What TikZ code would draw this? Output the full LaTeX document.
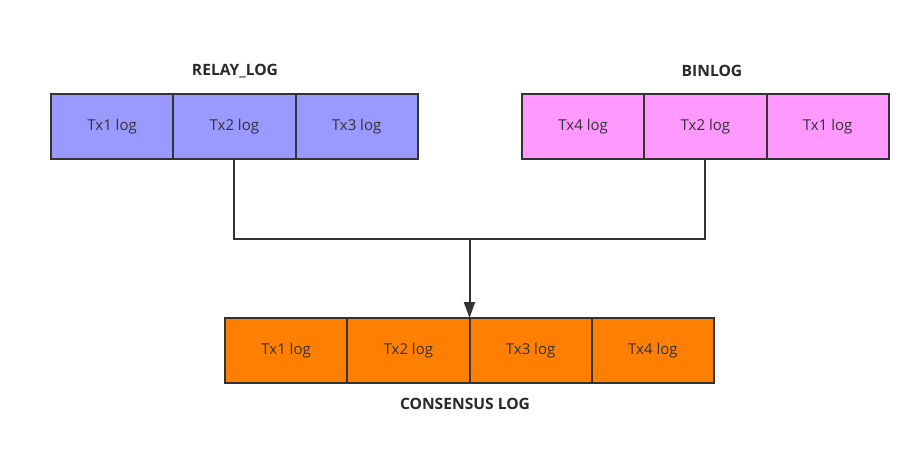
\documentclass[tikz,border=0pt]{standalone}
\usepackage{fontspec}
\setmainfont{Open Sans}
\usetikzlibrary{arrows.meta}
\definecolor{relay}{HTML}{9999FF}
\definecolor{bin}{HTML}{FF99FF}
\definecolor{cons}{HTML}{FF8000}
\definecolor{edge}{HTML}{333333}
\definecolor{txt}{HTML}{333333}
\begin{document}
\begin{tikzpicture}[x=1pt,y=-1pt,
  cell/.style={draw=edge, line width=2pt, outer sep=0pt, minimum width=122.25pt, minimum height=65pt, inner sep=0pt, anchor=north west, text=txt, font=\fontsize{15}{17}\selectfont},
  title/.style={text=txt!80!black, font=\bfseries\fontsize{15.6}{17}\selectfont},
  conn/.style={draw=edge, line width=2pt}]
\useasboundingbox (0,0) rectangle (924,457);
% relay
\node[cell, fill=relay] (r1) at (51,94) {Tx1 log};
\node[cell, fill=relay] (r2) at (r1.north east) {Tx2 log};
\node[cell, fill=relay] (r3) at (r2.north east) {Tx3 log};
% binlog
\node[cell, fill=bin] (b1) at (522,94) {Tx4 log};
\node[cell, fill=bin] (b2) at (b1.north east) {Tx2 log};
\node[cell, fill=bin] (b3) at (b2.north east) {Tx1 log};
% consensus
\node[cell, fill=cons] (c1) at (225,318) {Tx1 log};
\node[cell, fill=cons] (c2) at (c1.north east) {Tx2 log};
\node[cell, fill=cons] (c3) at (c2.north east) {Tx3 log};
\node[cell, fill=cons] (c4) at (c3.north east) {Tx4 log};
% titles
\node[title] (tr) at (235,71) {RELAY\_LOG};
\node[title] (tb) at (712,71) {BINLOG};
\node[title] (tc) at (465,404) {CONSENSUS LOG};
% connectors
\coordinate (j) at (c2.north east |- 0,239);
\draw[conn] (r2.south) |- (j) -| (b2.south);
\draw[conn, -{Triangle[length=16pt,width=11pt]}] (j) -- (c2.north east);
\end{tikzpicture}
\end{document}
